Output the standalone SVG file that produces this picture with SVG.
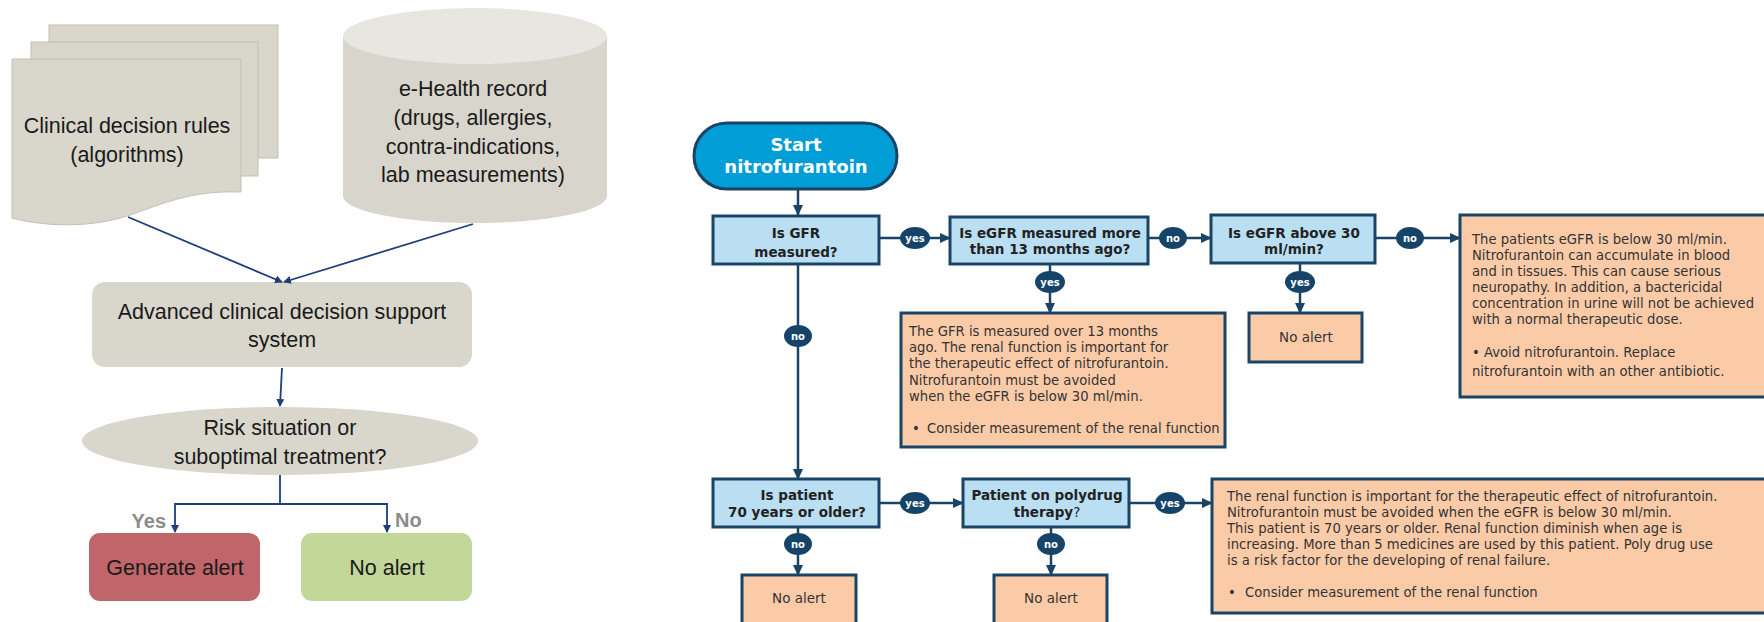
<svg xmlns="http://www.w3.org/2000/svg" width="1764" height="622" viewBox="0 0 1764 622">
<defs>
<marker id="la" markerWidth="8" markerHeight="8" refX="7" refY="4" orient="auto" markerUnits="userSpaceOnUse">
<path d="M0,0 L8,4 L0,8 Z" fill="#1F3E7C"/>
</marker>
<marker id="ra" markerWidth="11" markerHeight="10" refX="10" refY="5" orient="auto" markerUnits="userSpaceOnUse">
<path d="M0,0 L11,5 L0,10 Z" fill="#1A4466"/>
</marker>
<style>
.pg{fill:#D9D6CC;stroke:#C4BFB3;stroke-width:1}
.lt{font-family:"Liberation Sans",Arial,sans-serif;font-size:21.5px;fill:#1a1a1a;text-anchor:middle}
.yn{font-family:"Liberation Sans",Arial,sans-serif;font-size:20px;font-weight:bold;fill:#8C8C8C}
.lc{fill:none;stroke:#1F3E7C;stroke-width:1.8}
.q{fill:#BADFF2;stroke:#1A4466;stroke-width:3}
.o{fill:#FBCBA8;stroke:#1A4466;stroke-width:3}
.qt{font-family:"DejaVu Sans",Verdana,sans-serif;font-size:13.5px;font-weight:bold;fill:#222;text-anchor:middle}
.bt{font-family:"DejaVu Sans",Verdana,sans-serif;font-size:13.2px;fill:#333}
.nt{font-family:"DejaVu Sans",Verdana,sans-serif;font-size:13.5px;fill:#333;text-anchor:middle}
.rc{fill:none;stroke:#1A4466;stroke-width:2.5}
.bd{fill:#164469}
.bdt{font-family:"DejaVu Sans",Verdana,sans-serif;font-size:10px;font-weight:bold;fill:#fff;text-anchor:middle}
</style>
</defs>
<rect width="1764" height="622" fill="#ffffff"/>

<!-- Left diagram -->
<g id="rules">
<rect class="pg" x="49" y="25" width="229" height="133"/>
<rect class="pg" x="31" y="42" width="227" height="134"/>
<path class="pg" d="M12,59 H241 V192 C190,190 160,205 130,215 C95,227 50,228 12,218 Z"/>
<text class="lt" x="127" y="133">Clinical decision rules</text>
<text class="lt" x="127" y="162">(algorithms)</text>
</g>
<g id="ehealth">
<path d="M343,36 V196 A132,27 0 0 0 607,196 V36 Z" fill="#D8D5CC"/>
<ellipse cx="475" cy="36" rx="132" ry="28" fill="#E8E6E1"/>
<text class="lt" x="473" y="96">e-Health record</text>
<text class="lt" x="473" y="125">(drugs, allergies,</text>
<text class="lt" x="473" y="154">contra-indications,</text>
<text class="lt" x="473" y="182">lab measurements)</text>
</g>
<g id="cdss">
<rect x="92" y="282" width="380" height="85" rx="13" fill="#D9D6CC"/>
<text class="lt" x="282" y="319">Advanced clinical decision support</text>
<text class="lt" x="282" y="347">system</text>
</g>
<g id="risk">
<ellipse cx="280" cy="441" rx="198" ry="34" fill="#D9D6CC"/>
<text class="lt" x="280" y="435">Risk situation or</text>
<text class="lt" x="280" y="464">suboptimal treatment?</text>
</g>
<g id="generate-alert">
<rect x="89" y="533" width="171" height="68" rx="11" fill="#C0666B"/>
<text class="lt" x="175" y="575">Generate alert</text>
</g>
<g id="no-alert-left">
<rect x="301" y="533" width="171" height="68" rx="11" fill="#C4D79B"/>
<text class="lt" x="387" y="575">No alert</text>
</g>
<g id="left-connectors">
<line class="lc" x1="128" y1="217" x2="282" y2="282" marker-end="url(#la)"/>
<line class="lc" x1="473" y1="224" x2="284" y2="282" marker-end="url(#la)"/>
<line class="lc" x1="282" y1="368" x2="280" y2="406" marker-end="url(#la)"/>
<path class="lc" d="M280,475 V504 H175 V532" marker-end="url(#la)"/>
<path class="lc" d="M280,504 H387 V532" marker-end="url(#la)"/>
<text class="yn" x="166" y="528" text-anchor="end">Yes</text>
<text class="yn" x="395" y="527">No</text>
</g>

<!-- Right diagram -->
<g id="start">
<rect x="694" y="123" width="203" height="66" rx="33" fill="#009DD6" stroke="#1A4466" stroke-width="3"/>
<text x="796" y="151" font-family="DejaVu Sans, Verdana, sans-serif" font-size="18" font-weight="bold" fill="#fff" text-anchor="middle">Start</text>
<text x="796" y="173" font-family="DejaVu Sans, Verdana, sans-serif" font-size="18" font-weight="bold" fill="#fff" text-anchor="middle">nitrofurantoin</text>
</g>
<g id="gfr-measured">
<rect class="q" x="713" y="216" width="166" height="48"/>
<text class="qt" x="796" y="238">Is GFR</text>
<text class="qt" x="796" y="257">measured?</text>
</g>
<g id="egfr-13months">
<rect class="q" x="950" y="217" width="198" height="47"/>
<text class="qt" x="1050" y="238">Is eGFR measured more</text>
<text class="qt" x="1050" y="254">than 13 months ago?</text>
</g>
<g id="egfr-above30">
<rect class="q" x="1211" y="215" width="164" height="48"/>
<text class="qt" x="1294" y="238">Is eGFR above 30</text>
<text class="qt" x="1294" y="254">ml/min?</text>
</g>
<g id="below30-box">
<rect class="o" x="1460" y="215" width="330" height="182"/>
<text class="bt" x="1472" y="244">The patients eGFR is below 30 ml/min.</text>
<text class="bt" x="1472" y="260">Nitrofurantoin can accumulate in blood</text>
<text class="bt" x="1472" y="276">and in tissues. This can cause serious</text>
<text class="bt" x="1472" y="292">neuropathy. In addition, a bactericidal</text>
<text class="bt" x="1472" y="308">concentration in urine will not be achieved</text>
<text class="bt" x="1472" y="324">with a normal therapeutic dose.</text>
<text class="bt" x="1472" y="357">•  Avoid nitrofurantoin. Replace</text>
<text class="bt" x="1472" y="376">nitrofurantoin with an other antibiotic.</text>
</g>
<g id="over13-box">
<rect class="o" x="901" y="313" width="324" height="134"/>
<text class="bt" x="909" y="336">The GFR is measured over 13 months</text>
<text class="bt" x="909" y="352">ago. The renal function is important for</text>
<text class="bt" x="909" y="368">the therapeutic effect of nitrofurantoin.</text>
<text class="bt" x="909" y="385">Nitrofurantoin must be avoided</text>
<text class="bt" x="909" y="401">when the eGFR is below 30 ml/min.</text>
<text class="bt" x="912" y="433">•</text>
<text class="bt" x="927" y="433" font-size="12.9">Consider measurement of the renal function</text>
</g>
<g id="no-alert-1">
<rect class="o" x="1249" y="313" width="113" height="49"/>
<text class="nt" x="1306" y="342">No alert</text>
</g>
<g id="age70">
<rect class="q" x="713" y="479" width="166" height="48"/>
<text class="qt" x="797" y="500">Is patient</text>
<text class="qt" x="797" y="517">70 years or older?</text>
</g>
<g id="polydrug">
<rect class="q" x="963" y="479" width="166" height="48"/>
<text class="qt" x="1047" y="500">Patient on polydrug</text>
<text class="qt" x="1047" y="517">therapy<tspan font-weight="normal">?</tspan></text>
</g>
<g id="renal-box">
<rect class="o" x="1212" y="479" width="578" height="134"/>
<text class="bt" x="1227" y="501">The renal function is important for the therapeutic effect of nitrofurantoin.</text>
<text class="bt" x="1227" y="517">Nitrofurantoin must be avoided when the eGFR is below 30 ml/min.</text>
<text class="bt" x="1227" y="533">This patient is 70 years or older. Renal function diminish when age is</text>
<text class="bt" x="1227" y="549">increasing. More than 5 medicines are used by this patient. Poly drug use</text>
<text class="bt" x="1227" y="565">is a risk factor for the developing of renal failure.</text>
<text class="bt" x="1228" y="597">•</text>
<text class="bt" x="1245" y="597">Consider measurement of the renal function</text>
</g>
<g id="no-alert-2">
<rect class="o" x="742" y="575" width="114" height="60"/>
<text class="nt" x="799" y="603">No alert</text>
</g>
<g id="no-alert-3">
<rect class="o" x="994" y="575" width="113" height="60"/>
<text class="nt" x="1051" y="603">No alert</text>
</g>

<g id="right-connectors">
<line class="rc" x1="798" y1="189" x2="798" y2="215" marker-end="url(#ra)"/>
<line class="rc" x1="879" y1="238" x2="950" y2="238" marker-end="url(#ra)"/>
<line class="rc" x1="1148" y1="238" x2="1211" y2="238" marker-end="url(#ra)"/>
<line class="rc" x1="1375" y1="238" x2="1460" y2="238" marker-end="url(#ra)"/>
<line class="rc" x1="1050" y1="264" x2="1050" y2="313" marker-end="url(#ra)"/>
<line class="rc" x1="1300" y1="263" x2="1300" y2="313" marker-end="url(#ra)"/>
<line class="rc" x1="798" y1="264" x2="798" y2="479" marker-end="url(#ra)"/>
<line class="rc" x1="879" y1="503" x2="963" y2="503" marker-end="url(#ra)"/>
<line class="rc" x1="1129" y1="503" x2="1212" y2="503" marker-end="url(#ra)"/>
<line class="rc" x1="798" y1="527" x2="798" y2="575" marker-end="url(#ra)"/>
<line class="rc" x1="1051" y1="527" x2="1051" y2="575" marker-end="url(#ra)"/>
<ellipse class="bd" cx="915" cy="238" rx="15" ry="11"/><text class="bdt" x="915" y="241.5">yes</text>
<ellipse class="bd" cx="1173" cy="238" rx="14" ry="11"/><text class="bdt" x="1173" y="241.5">no</text>
<ellipse class="bd" cx="1410" cy="238" rx="14" ry="11"/><text class="bdt" x="1410" y="241.5">no</text>
<ellipse class="bd" cx="1050" cy="282" rx="15" ry="11"/><text class="bdt" x="1050" y="285.5">yes</text>
<ellipse class="bd" cx="1300" cy="282" rx="15" ry="11"/><text class="bdt" x="1300" y="285.5">yes</text>
<ellipse class="bd" cx="798" cy="336" rx="14" ry="11"/><text class="bdt" x="798" y="339.5">no</text>
<ellipse class="bd" cx="915" cy="503" rx="15" ry="11"/><text class="bdt" x="915" y="506.5">yes</text>
<ellipse class="bd" cx="1170" cy="503" rx="15" ry="11"/><text class="bdt" x="1170" y="506.5">yes</text>
<ellipse class="bd" cx="798" cy="544" rx="14" ry="11"/><text class="bdt" x="798" y="547.5">no</text>
<ellipse class="bd" cx="1051" cy="544" rx="14" ry="11"/><text class="bdt" x="1051" y="547.5">no</text>
</g>
</svg>
